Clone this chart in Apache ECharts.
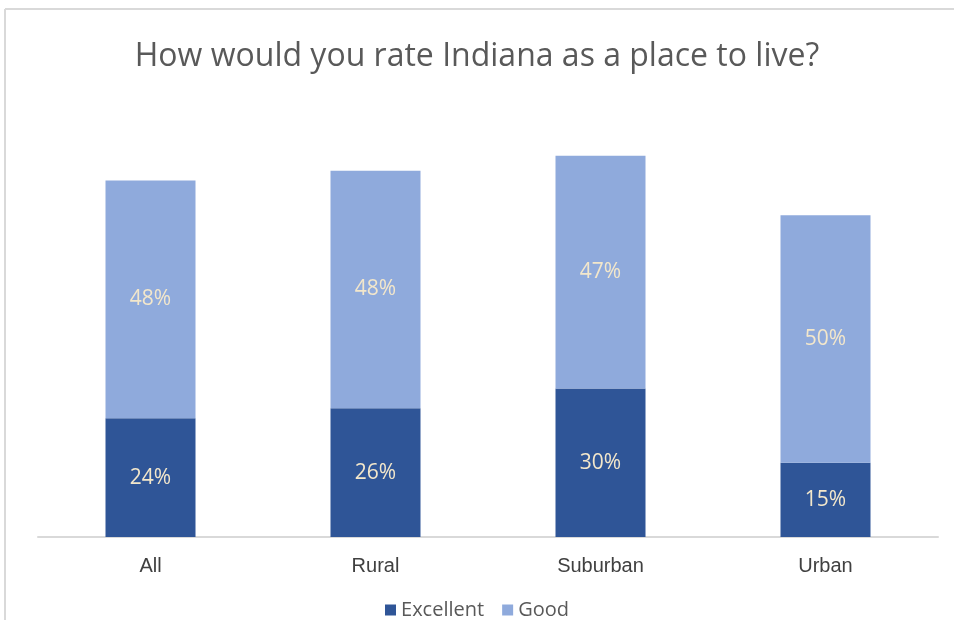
<!DOCTYPE html>
<html>
<head>
<meta charset="utf-8">
<script src="https://cdn.jsdelivr.net/npm/echarts@6/dist/echarts.min.js"></script>
<style>
  html, body { margin: 0; padding: 0; background: #fff; }
  #chart { width: 954px; height: 620px; }
</style>
</head>
<body>
<div id="chart"></div>
<script>
// Survey responses by area type, percent of respondents
const categories = ['All', 'Rural', 'Suburban', 'Urban'];
const excellent = [24, 26, 30, 15];
const good = [48, 48, 47, 50];
const seriesNames = ['Excellent', 'Good'];

const labelStyle = {
  show: true,
  position: 'inside',
  color: '#f3e7cb',
  fontFamily: 'Open Sans',
  fontSize: 21,
  formatter: p => p.value + '%'
};

const chart = echarts.init(document.getElementById('chart'));
chart.setOption({
  animation: false,
  title: {
    text: 'How would you rate Indiana as a place to live?',
    left: 'center',
    top: 36,
    textStyle: { fontFamily: 'Open Sans', fontWeight: 'normal', fontSize: 32, color: '#595959' }
  },
  legend: {
    data: seriesNames,
    top: 595,
    left: 'center',
    icon: 'rect',
    itemWidth: 11,
    itemHeight: 11,
    itemGap: 18,
    textStyle: { fontFamily: 'Open Sans', fontSize: 20, color: '#595959' }
  },
  grid: { left: 38, right: 16, top: 42, bottom: 83 },
  xAxis: {
    type: 'category',
    data: categories,
    axisLine: { lineStyle: { color: '#d9d9d9', width: 2 } },
    axisTick: { show: false },
    axisLabel: { fontFamily: 'Liberation Sans', fontSize: 20, color: '#404040', margin: 19 }
  },
  yAxis: {
    type: 'value',
    min: 0,
    max: 100,
    show: false
  },
  series: [
    {
      name: seriesNames[0],
      type: 'bar',
      stack: 'total',
      data: excellent,
      barWidth: 90,
      itemStyle: { color: '#2f5597' },
      label: labelStyle
    },
    {
      name: seriesNames[1],
      type: 'bar',
      stack: 'total',
      data: good,
      barWidth: 90,
      itemStyle: { color: '#8faadc' },
      label: labelStyle
    }
  ],
  graphic: [
    { type: 'line', shape: { x1: 5, y1: 9, x2: 954, y2: 9 }, style: { stroke: '#d9d9d9', lineWidth: 2 } },
    { type: 'line', shape: { x1: 5, y1: 9, x2: 5, y2: 620 }, style: { stroke: '#d9d9d9', lineWidth: 2 } }
  ]
});
</script>
</body>
</html>
